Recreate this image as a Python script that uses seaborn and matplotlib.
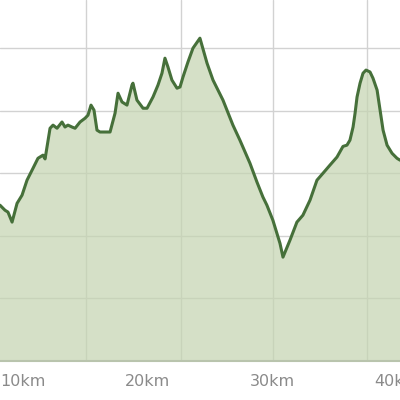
import matplotlib
matplotlib.use("Agg")
import matplotlib.pyplot as plt
import seaborn as sns
import pandas as pd

# Elevation profile (distance in km, elevation in m)
dist_km = [8.15, 8.55, 8.79, 9.12, 9.52, 9.92, 10.32, 10.80, 11.20, 11.60, 11.77,
           12.17, 12.41, 12.73, 13.13, 13.37, 13.61, 13.93, 14.18, 14.58, 14.98,
           15.22, 15.46, 15.70, 15.94, 16.18, 16.99, 17.39, 17.63, 17.95, 18.35,
           18.75, 18.83, 19.15, 19.64, 19.96, 20.44, 20.84, 21.16, 21.40, 21.64,
           21.96, 22.37, 22.61, 22.85, 23.25, 23.65, 24.21, 24.78, 25.26, 26.06,
           26.86, 27.42, 28.23, 28.79, 29.27, 29.59, 30.07, 30.64, 30.88, 31.44,
           32.00, 32.48, 33.05, 33.61, 34.09, 34.65, 35.22, 35.70, 36.02, 36.26,
           36.51, 36.67, 36.83, 37.07, 37.31, 37.55, 37.87, 38.11, 38.44, 38.68,
           38.92, 39.24, 39.64, 40.04, 40.28]
elev_m = [249, 241, 238, 222, 252, 265, 289, 308, 324, 329, 323,
          372, 377, 372, 382, 374, 377, 374, 372, 382, 388,
          393, 409, 401, 369, 366, 366, 396, 428, 414, 409,
          441, 444, 417, 404, 404, 422, 441, 460, 484, 470,
          449, 436, 438, 454, 478, 500, 516, 476, 449, 417,
          377, 353, 316, 286, 262, 249, 225, 188, 166, 193,
          222, 233, 257, 289, 300, 313, 326, 343, 345, 353,
          374, 396, 422, 444, 460, 465, 462, 452, 433, 401,
          369, 345, 332, 324, 321]

tick_km = [10, 20, 30, 40]
tick_labels = ["10km", "20km", "30km", "40km"]
grid_km = [15.06, 22.69, 30.08, 37.63]
grid_m = [100, 200, 300, 400, 500]

df = pd.DataFrame({"km": dist_km, "elev": elev_m})

sns.set_theme(style="white")
fig = plt.figure(figsize=(4, 4), dpi=100)
ax = fig.add_axes([0, 0.0975, 1, 0.9025])

# grid lines first so the fill tints them
for g in grid_km:
    ax.axvline(g, color="#d2d2d2", lw=1, zorder=0)
for g in grid_m:
    ax.axhline(g, color="#d2d2d2", lw=1, zorder=0)

ax.fill_between(df["km"], df["elev"], 0, color="#c4d4b0", alpha=0.7, lw=0, zorder=1)
sns.lineplot(data=df, x="km", y="elev", ax=ax, color="#46703a", lw=2.2,
             solid_joinstyle="round", zorder=2)

ax.set_xlim(8.15, 40.28)
ax.set_ylim(0, 577)
ax.set_xticks(tick_km)
ax.set_xticklabels(tick_labels)
ax.set_yticks([])
ax.set_xlabel("")
ax.set_ylabel("")
ax.tick_params(axis="x", length=0, pad=9, labelsize=11.5, labelcolor="#8a8a8a")

for s in ["top", "left", "right"]:
    ax.spines[s].set_visible(False)
ax.spines["bottom"].set_color("#b9c4ad")
ax.spines["bottom"].set_linewidth(1.5)

fig.savefig("out.png", dpi=100)
